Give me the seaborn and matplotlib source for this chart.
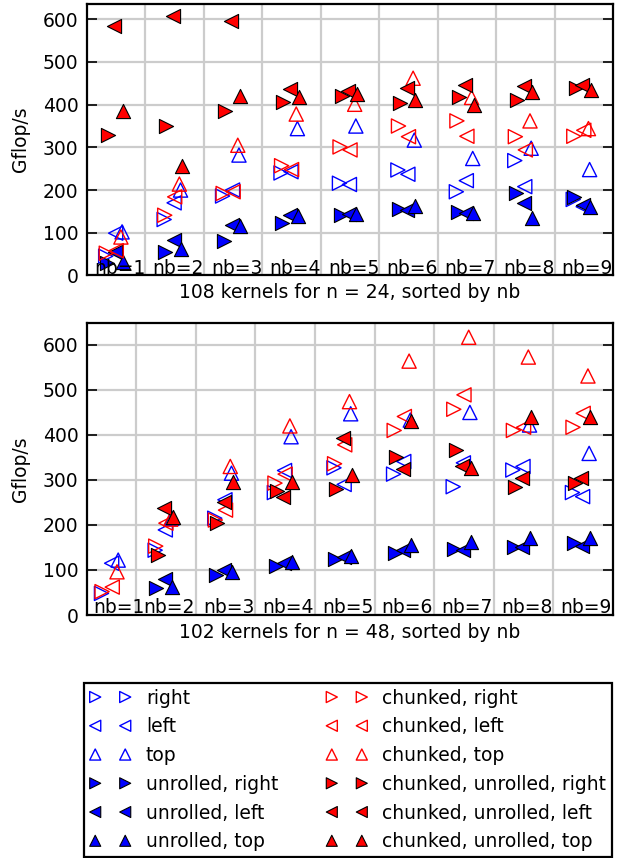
import numpy as np
import pandas as pd
import matplotlib
matplotlib.use("Agg")
import matplotlib.pyplot as plt
import seaborn as sns

# ---------------- data (Gflop/s) ----------------
nb = [1, 2, 3, 4, 5, 6, 7, 8, 9]
nb_labels = ["nb=%d" % k for k in nb]

series_labels = ["right", "left", "top",
                 "unrolled, right", "unrolled, left", "unrolled, top",
                 "chunked, right", "chunked, left", "chunked, top",
                 "chunked, unrolled, right", "chunked, unrolled, left",
                 "chunked, unrolled, top"]

# n = 24 (108 kernels)
n24_right = [45, 131, 186, 240, 216, 247, 196, 269, 178]
n24_left = [99, 170, 200, 243, 213, 237, 222, 208, 161]
n24_top = [102, 200, 282, 344, 350, 317, 274, 298, 248]
n24_unr_right = [28, 56, 81, 123, 141, 155, 149, 192, 183]
n24_unr_left = [55, 83, 118, 141, 145, 153, 147, 169, 165]
n24_unr_top = [32, 63, 116, 140, 145, 163, 147, 134, 160]
n24_ch_right = [52, 141, 192, 257, 301, 350, 362, 325, 326]
n24_ch_left = [58, 184, 196, 248, 294, 325, 326, 294, 340]
n24_ch_top = [90, 214, 305, 378, 401, 462, 417, 362, 344]
n24_ch_unr_right = [330, 350, 386, 407, 420, 403, 417, 411, 438]
n24_ch_unr_left = [584, 608, 597, 436, 432, 440, 446, 444, 446]
n24_ch_unr_top = [386, 257, 420, 417, 425, 412, 399, 430, 434]

# n = 48 (102 kernels, no unrolled variants for nb=1)
nan = np.nan
n48_right = [48, 144, 215, 272, 327, 313, 285, 322, 272]
n48_left = [115, 189, 256, 321, 290, 341, 338, 330, 263]
n48_top = [122, 215, 315, 396, 447, 433, 450, 422, 359]
n48_unr_right = [nan, 59, 89, 109, 124, 138, 146, 152, 159]
n48_unr_left = [nan, 81, 100, 116, 128, 144, 144, 150, 153]
n48_unr_top = [nan, 63, 96, 118, 131, 156, 163, 170, 170]
n48_ch_right = [52, 153, 211, 293, 336, 410, 457, 410, 417]
n48_ch_left = [62, 204, 233, 313, 378, 441, 489, 417, 448]
n48_ch_top = [96, 213, 330, 420, 474, 564, 617, 573, 531]
n48_ch_unr_right = [nan, 133, 204, 276, 281, 350, 367, 285, 293]
n48_ch_unr_left = [nan, 237, 252, 263, 393, 324, 330, 304, 304]
n48_ch_unr_top = [nan, 218, 296, 296, 311, 432, 326, 439, 439]

yticks = [0, 100, 200, 300, 400, 500, 600]

# ---------------- styling ----------------
BLUE = "#0000ff"
RED = "#ff0000"
# (marker, colour, filled, x-offset within nb group)
styles = [(">", BLUE, False, -0.18), ("<", BLUE, False, -0.01), ("^", BLUE, False, 0.10),
          (">", BLUE, True, -0.16), ("<", BLUE, True, -0.02), ("^", BLUE, True, 0.11),
          (">", RED, False, -0.17), ("<", RED, False, 0.00), ("^", RED, False, 0.08),
          (">", RED, True, -0.14), ("<", RED, True, -0.03), ("^", RED, True, 0.12)]

panels = [
    dict(values=[n24_right, n24_left, n24_top, n24_unr_right, n24_unr_left, n24_unr_top,
                 n24_ch_right, n24_ch_left, n24_ch_top, n24_ch_unr_right, n24_ch_unr_left,
                 n24_ch_unr_top],
         centers=[1, 2, 3, 4, 5, 6, 7, 8, 9],
         label_x=[k + 0.06 for k in nb],
         xlim=(0.5, 9.5), ylim=(0, 637),
         xlabel="108 kernels for n = 24, sorted by nb",
         rect=[0.1399, 0.679, 0.8456, 0.3169]),
    dict(values=[n48_right, n48_left, n48_top, n48_unr_right, n48_unr_left, n48_unr_top,
                 n48_ch_right, n48_ch_left, n48_ch_top, n48_ch_unr_right, n48_ch_unr_left,
                 n48_ch_unr_top],
         centers=[1.1, 2, 3, 4, 5, 6, 7, 8, 9],
         label_x=[1.22] + [k + 0.05 for k in nb[1:]],
         xlim=(0.677, 9.5), ylim=(0, 648),
         xlabel="102 kernels for n = 48, sorted by nb",
         rect=[0.1399, 0.2832, 0.8456, 0.34]),
]

sns.set_theme(style="white", rc={"text.color": "black", "axes.labelcolor": "black",
                                 "xtick.color": "black", "ytick.color": "black",
                                 "axes.edgecolor": "black"})
plt.rcParams["font.family"] = ["DejaVu Sans"]
FS = 13.5
MS = 10.2

fig = plt.figure(figsize=(6.22, 8.58), dpi=100)

handles = None
for p in panels:
    ax = fig.add_axes(p["rect"])
    for (lab, (mk, col, filled, off), vals) in zip(series_labels, styles, p["values"]):
        df = pd.DataFrame({"x": np.array(p["centers"], float) + off, "y": vals}).dropna()
        if filled:
            sns.scatterplot(data=df, x="x", y="y", ax=ax, marker=mk, s=MS ** 2,
                            color=col, edgecolor="black", linewidth=0.8,
                            label=lab, zorder=3, legend=False)
        else:
            sns.scatterplot(data=df, x="x", y="y", ax=ax, marker=mk, s=MS ** 2,
                            color=col, facecolors="none", edgecolor=col, linewidth=1.0,
                            label=lab, zorder=3, legend=False)
    if ax.get_legend() is not None:
        ax.get_legend().remove()
    if handles is None:
        handles, labs = ax.get_legend_handles_labels()

    ax.set_xlim(*p["xlim"])
    ax.set_ylim(*p["ylim"])
    ax.set_xticks([k + 0.5 for k in nb[:-1]])
    ax.set_xticklabels([])
    ax.set_yticks(yticks)
    ax.set_yticklabels([str(v) for v in yticks], fontsize=FS)
    ax.tick_params(axis="x", length=0)
    ax.tick_params(axis="y", direction="in", length=7, width=1.2, left=True, right=True,
                   pad=6, color="black", labelcolor="black")
    ax.grid(True, color="#cccccc", linewidth=1.6)
    ax.set_axisbelow(True)
    for s in ax.spines.values():
        s.set_color("black")
        s.set_linewidth(1.6)
    for lx, t in zip(p["label_x"], nb_labels):
        ax.annotate(t, xy=(lx, 0), xytext=(0, 1.2), textcoords="offset points",
                    ha="center", va="baseline", fontsize=FS, color="black", zorder=4)
    ax.set_xlabel(p["xlabel"], fontsize=FS, color="black")
    ax.xaxis.set_label_coords(0.5, -0.028)
    ax.set_ylabel("Gflop/s", fontsize=FS, color="black")
    ax.yaxis.set_label_coords(-0.108, 0.5)

leg = fig.legend(handles, series_labels, loc="upper left",
                 bbox_to_anchor=(0.135, 0.0015, 0.849, 0.2025), mode="expand",
                 ncol=2, scatterpoints=2, scatteryoffsets=[0.5], markerscale=0.78,
                 fontsize=FS, handlelength=2.2, handletextpad=0.8, borderpad=0.3,
                 labelspacing=0.52, borderaxespad=0, frameon=True, fancybox=False,
                 edgecolor="black", framealpha=1, labelcolor="black")
leg.get_frame().set_linewidth(1.6)

fig.savefig("out.png", dpi=100, facecolor="white")
